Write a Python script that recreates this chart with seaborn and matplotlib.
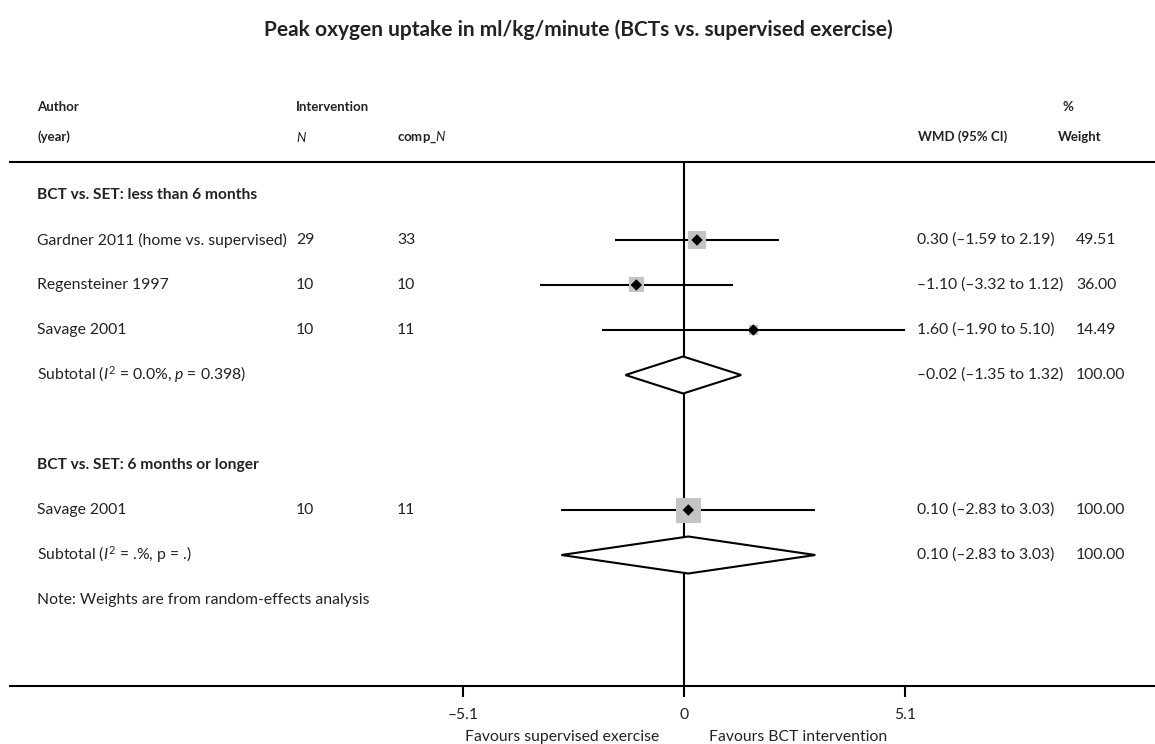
import matplotlib
matplotlib.use("Agg")
import matplotlib.pyplot as plt
import matplotlib.transforms as mtransforms
import seaborn as sns
import pandas as pd

# ---------------- data ----------------
title = "Peak oxygen uptake in ml/kg/minute (BCTs vs. supervised exercise)"
group_labels = ["BCT vs. SET: less than 6 months", "BCT vs. SET: 6 months or longer"]
studies = ["Gardner 2011 (home vs. supervised)", "Regensteiner 1997", "Savage 2001", "Savage 2001"]
study_group = [0, 0, 0, 1]
n_int = [29, 10, 10, 10]
n_comp = [33, 10, 11, 11]
wmd = [0.30, -1.10, 1.60, 0.10]
ci_lo = [-1.59, -3.32, -1.90, -2.83]
ci_hi = [2.19, 1.12, 5.10, 3.03]
weights = [49.51, 36.00, 14.49, 100.00]
sub_labels = [r"Subtotal ($\mathit{I}^2$ = 0.0%, $\mathit{p}$ = 0.398)",
              r"Subtotal ($\mathit{I}^2$ = .%, p = .)"]
sub_est = [-0.02, 0.10]
sub_lo = [-1.35, -2.83]
sub_hi = [1.32, 3.03]
sub_weight = [100.00, 100.00]
note = "Note: Weights are from random-effects analysis"
xticks = [-5.1, 0, 5.1]
xticklabels = ["\u20135.1", "0", "5.1"]
favours_left = "Favours supervised exercise"
favours_right = "Favours BCT intervention"

# row layout (row index for each line of the table)
group_rows = [0, 6]
study_rows = [1, 2, 3, 7]
sub_rows = [4, 8]
note_row = 9

# ---------------- style ----------------
sns.set_theme(style="white")
plt.rcParams['font.family'] = ['Lato', 'DejaVu Sans']
plt.rcParams['mathtext.fontset'] = 'custom'
plt.rcParams['mathtext.rm'] = 'Lato'
plt.rcParams['mathtext.it'] = 'Lato:italic'
plt.rcParams['mathtext.bf'] = 'Lato:bold'

W, H = 1155, 744
fig = plt.figure(figsize=(W / 100, H / 100), dpi=100)
ax = fig.add_axes([10 / W, 1 - 686 / H, 1 - 10 / W, (686 - 162) / H])

x0px, ppu = 684, 221 / 5.1
ax.set_xlim((10 - x0px) / ppu, (W - x0px) / ppu)
ax.set_ylim((686 - 195) / 45, (162 - 195) / 45)

LW = 1.5
txtcol = "#222222"
fs = 11.3

def fmt(v):
    s = f"{v:.2f}"
    return s.replace("-", "\u2013")

# CI lines
ax.hlines(study_rows, ci_lo, ci_hi, color="black", lw=LW, zorder=2)
# weight boxes
df = pd.DataFrame({"x": wmd, "y": study_rows, "w": weights})
sns.scatterplot(data=df, x="x", y="y", size="w", sizes=(3.24 * min(weights), 3.24 * max(weights)),
                size_norm=(min(weights), max(weights)), marker="s", color="#c4c4c4",
                edgecolor="none", linewidth=0, legend=False, ax=ax, zorder=3)
sns.scatterplot(data=df, x="x", y="y", marker="D", color="black", s=34,
                edgecolor="none", legend=False, ax=ax, zorder=4)

# null line
ax.axvline(0, color="black", lw=LW, zorder=1)

# diamonds
hh = 18.5 / 45
for r, e, lo, hi in zip(sub_rows, sub_est, sub_lo, sub_hi):
    ax.fill([lo, e, hi, e], [r, r - hh, r, r + hh], facecolor="white",
            edgecolor="black", lw=LW, zorder=5)

# axes cosmetics
for s in ["left", "right"]:
    ax.spines[s].set_visible(False)
for s in ["top", "bottom"]:
    ax.spines[s].set_visible(True)
    ax.spines[s].set_linewidth(LW)
    ax.spines[s].set_color("black")
ax.set_yticks([])
ax.set_xticks(xticks)
ax.set_xticklabels(xticklabels, fontsize=fs, color=txtcol)
ax.tick_params(axis="x", direction="out", length=8, width=LW, pad=8, bottom=True, color="black")
ax.set_xlabel("")
ax.set_ylabel("")

# text columns
tr = mtransforms.blended_transform_factory(fig.transFigure, ax.transData)
def px(x):
    return x / W

col_author, col_n, col_cn, col_wmd, col_w = 37, 296, 397, 917, 1076

hdr_fs = 9.5
ax.text(px(col_author), -1.956, "Author", transform=tr, fontsize=hdr_fs, fontweight="bold", va="center", color=txtcol)
ax.text(px(col_author), -1.289, "(year)", transform=tr, fontsize=hdr_fs, fontweight="bold", va="center", color=txtcol)
ax.text(px(col_n), -1.956, "Intervention", transform=tr, fontsize=hdr_fs, fontweight="bold", va="center", color=txtcol)
ax.text(px(col_n), -1.289, r"$\mathbf{\mathit{N}}$", transform=tr, fontsize=hdr_fs, va="center", color=txtcol)
ax.text(px(col_cn), -1.289, r"comp_$\mathbf{\mathit{N}}$", transform=tr, fontsize=hdr_fs, fontweight="bold", va="center", color=txtcol)
ax.text(px(col_wmd + 1), -1.289, "WMD (95% CI)", transform=tr, fontsize=hdr_fs, fontweight="bold", va="center", color=txtcol)
ax.text(px(1068), -1.956, "%", transform=tr, fontsize=hdr_fs, fontweight="bold", va="center", ha="center", color=txtcol)
ax.text(px(1058), -1.289, "Weight", transform=tr, fontsize=hdr_fs, fontweight="bold", va="center", color=txtcol)

for r, g in zip(group_rows, group_labels):
    ax.text(px(col_author), r, g, transform=tr, fontsize=11.2, fontweight="bold", va="center", color=txtcol)

for i, r in enumerate(study_rows):
    ax.text(px(col_author), r, studies[i], transform=tr, fontsize=fs, va="center", color=txtcol)
    ax.text(px(col_n), r, str(n_int[i]), transform=tr, fontsize=fs, va="center", color=txtcol)
    ax.text(px(col_cn), r, str(n_comp[i]), transform=tr, fontsize=fs, va="center", color=txtcol)
    ax.text(px(col_wmd), r, f"{fmt(wmd[i])} ({fmt(ci_lo[i])} to {fmt(ci_hi[i])})",
            transform=tr, fontsize=fs, va="center", color=txtcol)
    ax.text(px(col_w), r, f"{weights[i]:.2f}", transform=tr, fontsize=fs, va="center", color=txtcol)

for i, r in enumerate(sub_rows):
    ax.text(px(col_author), r, sub_labels[i], transform=tr, fontsize=fs, va="center", color=txtcol)
    ax.text(px(col_wmd), r, f"{fmt(sub_est[i])} ({fmt(sub_lo[i])} to {fmt(sub_hi[i])})",
            transform=tr, fontsize=fs, va="center", color=txtcol)
    ax.text(px(col_w), r, f"{sub_weight[i]:.2f}", transform=tr, fontsize=fs, va="center", color=txtcol)

ax.text(px(col_author), note_row, note, transform=tr, fontsize=fs, va="center", color=txtcol)

# favours labels
fig.text(px(659), 1 - 737 / H, favours_left, ha="right", va="center", fontsize=fs, color=txtcol)
fig.text(px(709), 1 - 737 / H, favours_right, ha="left", va="center", fontsize=fs, color=txtcol)

# title
fig.text(px(578), 1 - 30 / H, title, ha="center", va="center", fontsize=15, fontweight="bold", color=txtcol)

fig.savefig("out.png", dpi=100)
